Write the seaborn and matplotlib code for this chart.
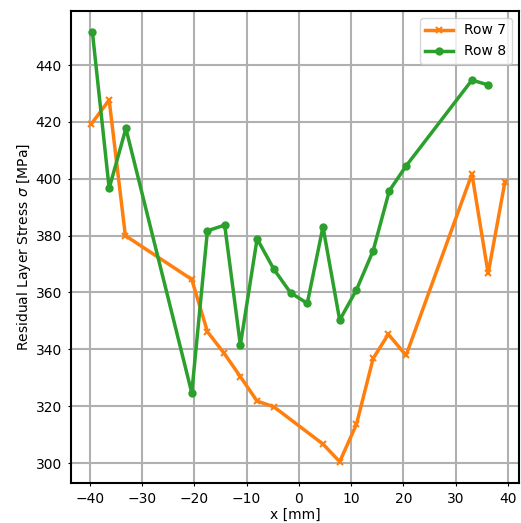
import pandas as pd
import matplotlib
matplotlib.use('Agg')
import matplotlib.pyplot as plt
import seaborn as sns

# Row 7 data
x_row7 = [-39.7, -36.3, -33.2, -20.5, -17.5, -14.3, -11.2, -8.0, -4.8,
          4.6, 7.8, 11.0, 14.2, 17.1, 20.5, 33.1, 36.2, 39.4]
s_row7 = [419.3, 427.7, 380.0, 364.6, 346.2, 338.6, 330.4, 321.8, 319.8,
          306.7, 300.5, 313.6, 336.8, 345.3, 337.9, 401.7, 366.7, 398.8]

# Row 8 data
x_row8 = [-39.5, -36.3, -33.1, -20.5, -17.5, -14.2, -11.2, -8.0, -4.8, -1.6,
          1.6, 4.6, 7.8, 11.0, 14.2, 17.3, 20.5, 33.1, 36.2]
s_row8 = [451.5, 396.6, 417.7, 324.7, 381.7, 383.7, 341.5, 378.9, 368.2, 359.9,
          356.2, 383.1, 350.3, 360.9, 374.7, 395.8, 404.5, 434.7, 433.0]

df7 = pd.DataFrame({'x': x_row7, 'stress': s_row7})
df8 = pd.DataFrame({'x': x_row8, 'stress': s_row8})

fig = plt.figure(figsize=(5.21, 5.23), dpi=100)
ax = fig.add_axes([71 / 521, (523 - 483) / 523, (519 - 71) / 521, (483 - 11) / 523])

sns.lineplot(data=df7, x='x', y='stress', ax=ax, color='tab:orange', marker='x',
             markersize=4, markeredgewidth=1.5, markeredgecolor='tab:orange',
             linewidth=2.5, sort=False, label='Row 7')
sns.lineplot(data=df8, x='x', y='stress', ax=ax, color='tab:green', marker='o',
             markersize=6, markeredgewidth=0, markeredgecolor='tab:green',
             linewidth=2.5, sort=False, label='Row 8')

ax.grid(True, color='#b0b0b0', linewidth=1.5)
ax.set_axisbelow(True)
ax.set_xlim(-43.6, 42.1)
ax.set_ylim(293, 459)
ax.set_xticks([-40, -30, -20, -10, 0, 10, 20, 30, 40])
ax.set_yticks([300, 320, 340, 360, 380, 400, 420, 440])
ax.tick_params(length=2.5, pad=4)
for side in ['left', 'bottom', 'top', 'right']:
    ax.spines[side].set_linewidth(1.5)
ax.set_xlabel('x [mm]', labelpad=1)
ax.set_ylabel(r'Residual Layer Stress $\sigma$ [MPa]', labelpad=2)
ax.legend(loc='upper right')

fig.savefig('out.png', dpi=100)
